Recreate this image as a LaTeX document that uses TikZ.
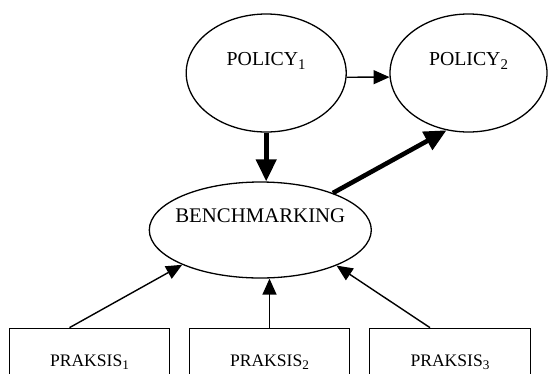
\documentclass[tikz,border=0pt]{standalone}
\usepackage{fontspec}
\setmainfont{Liberation Serif}
\usetikzlibrary{shapes.geometric,arrows.meta}
\newcommand{\mysub}[1]{\raisebox{-0.22em}{\scalebox{0.75}{#1}}}
\begin{document}
\begin{tikzpicture}[x=1pt,y=-1pt,
  oval/.style={draw, ellipse, line width=1.3pt, inner sep=0pt, text height=14pt, text depth=29pt},
  box/.style={draw, rectangle, line width=1.3pt, minimum width=160.5pt, minimum height=60pt, inner sep=0pt, text height=20pt, text depth=4.4pt},
  thinarrow/.style={line width=1.4pt, -{Triangle[length=16pt,width=14pt]}},
  thickarrow/.style={line width=4.6pt, -{Triangle[length=22pt,width=20pt]}}]
\useasboundingbox (0,0) rectangle (549,373);
\clip (0,0) rectangle (549,373);
\node[oval, minimum width=160pt, minimum height=118pt] (p1) at (266.2,73) {\makebox[0pt]{\fontsize{19.8}{20}\selectfont POLICY\mysub{1}}};
\node[oval, minimum width=157pt, minimum height=118pt] (p2) at (468.5,73) {\makebox[0pt]{\fontsize{19.8}{20}\selectfont POLICY\mysub{2}}};
\node[oval, minimum width=222pt, minimum height=96pt] (b) at (260.3,230) {\makebox[0pt]{\fontsize{20.8}{21}\selectfont BENCHMARKING}};
\node[box] (r1) at (89.5,358.3) {\fontsize{17.6}{18}\selectfont PRAKSIS\mysub{1}};
\node[box] (r2) at (269.5,358.3) {\fontsize{17.6}{18}\selectfont PRAKSIS\mysub{2}};
\node[box] (r3) at (450,358.3) {\fontsize{17.6}{18}\selectfont PRAKSIS\mysub{3}};
\draw[thinarrow] (p1.-3.5) -- (p2.183.5);
\draw[thickarrow] (p1.south) -- (p1.south |- b.north);
\draw[thickarrow] (b.27.5) -- (p2.249.8);
\draw[thinarrow] ([xshift=-20pt]r1.north) -- (b.204.6);
\draw[thinarrow] (r2.north) -- (r2.north |- b.south);
\draw[thinarrow] ([xshift=-20pt]r3.north) -- (b.335.6);
\end{tikzpicture}
\end{document}
